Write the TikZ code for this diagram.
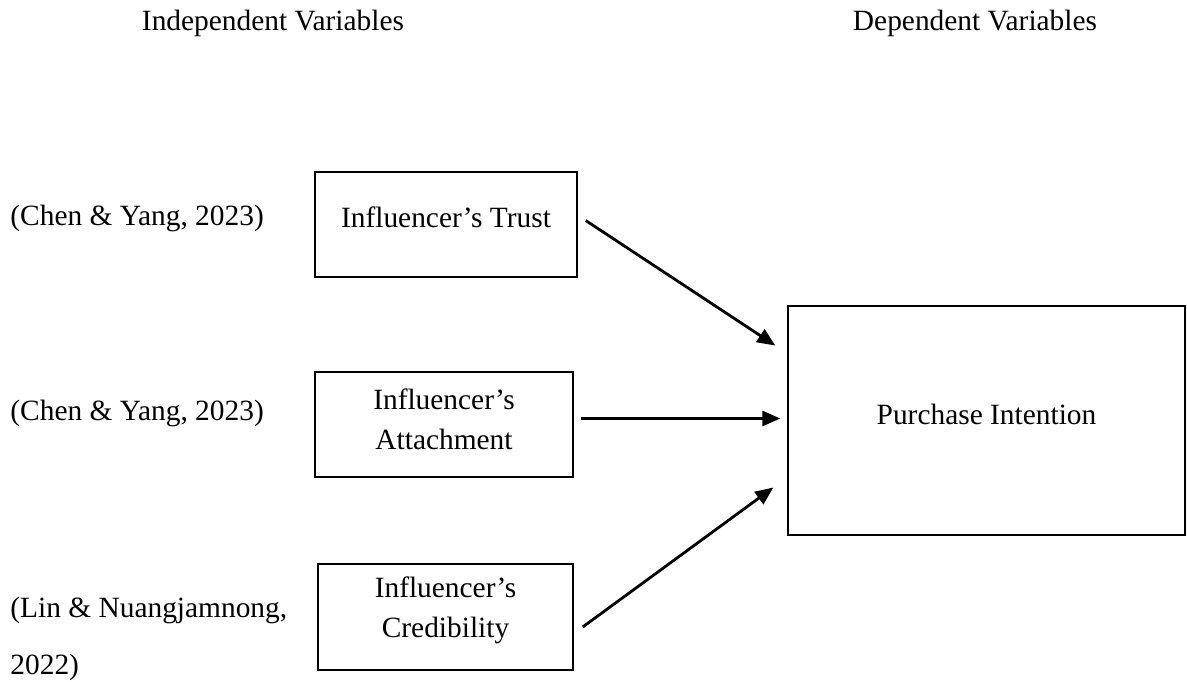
\documentclass[tikz,border=0pt]{standalone}
\usepackage{fontspec}
\setmainfont{Liberation Serif}
\usetikzlibrary{arrows.meta,calc}
\begin{document}
\begin{tikzpicture}[x=0.5pt,y=-0.5pt,
  every node/.style={font=\fontsize{14.7}{20}\selectfont, inner sep=0pt},
  every label/.style={font=\fontsize{14.7}{20}\selectfont, inner sep=0pt, align=center},
  box/.style={draw, line width=0.7pt, align=center},
  arr/.style={line width=1.4pt, -{Triangle[length=9pt,width=7.5pt]}}]
\useasboundingbox (0,0) rectangle (1187,681);
\node (hi) at (273,23) {Independent Variables};
\node (hd) at (975,23) {Dependent Variables};
\node[box, minimum width=131pt, minimum height=52.5pt,
  label={[yshift=3.5pt]center:Influencer’s Trust}] (t) at (446,224.5) {};
\node[box, minimum width=129pt, minimum height=52.5pt,
  label={[yshift=2.5pt]center:Influencer’s\\Attachment}] (a) at (444,424.5) {};
\node[box, minimum width=127.5pt, minimum height=53pt,
  label={[yshift=3.5pt]center:Influencer’s\\Credibility}] (c) at (445.5,617) {};
\node[box, minimum width=198.5pt, minimum height=114.5pt,
  label={[yshift=3pt]center:Purchase Intention}] (p) at (986.5,420.5) {};
\node[anchor=west] (c1) at (10,218) {(Chen \& Yang, 2023)};
\node[anchor=west] (c2) at (10,413) {(Chen \& Yang, 2023)};
\node[anchor=north west, align=left, font=\fontsize{14.7}{28.5}\selectfont] (c3) at (10,597) {(Lin \& Nuangjamnong,\\2022)};
\draw[arr] ($(t.east)+(8,-4)$) -- ($(p.west)+(-12,-75)$);
\draw[arr] ($(a.east)+(7,-6)$) -- ($(p.west)+(-7,-2)$);
\draw[arr] ($(c.east)+(9,10)$) -- ($(p.west)+(-14,67)$);
\end{tikzpicture}
\end{document}
